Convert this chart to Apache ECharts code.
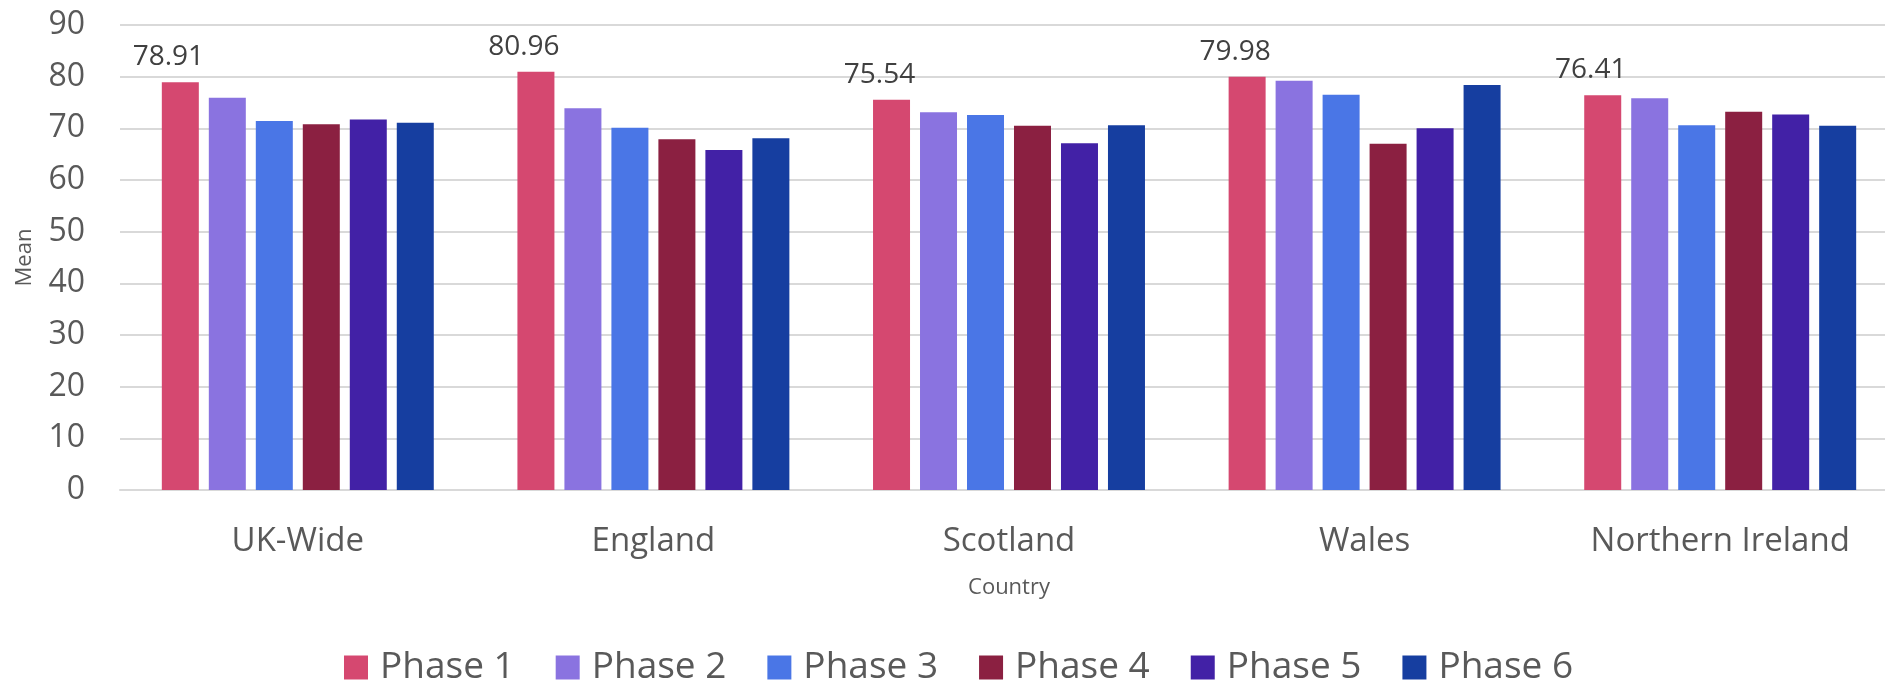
<!DOCTYPE html>
<html>
<head>
<meta charset="utf-8">
<script src="https://cdn.jsdelivr.net/npm/echarts@6/dist/echarts.min.js"></script>
<style>
html,body{margin:0;padding:0;background:#fff;overflow:hidden;}
#chart{width:1898px;height:683px;}
</style>
</head>
<body>
<div id="chart"></div>
<script>
const categories = ["UK-Wide", "England", "Scotland", "Wales", "Northern Ireland"];
const phaseNames = ["Phase 1", "Phase 2", "Phase 3", "Phase 4", "Phase 5", "Phase 6"];
const phase1 = [78.91, 80.96, 75.54, 79.98, 76.41];
const phase2 = [75.9, 73.9, 73.1, 79.2, 75.8];
const phase3 = [71.4, 70.1, 72.6, 76.5, 70.6];
const phase4 = [70.8, 67.9, 70.5, 67.0, 73.2];
const phase5 = [71.7, 65.8, 67.1, 70.0, 72.7];
const phase6 = [71.1, 68.1, 70.6, 78.4, 70.5];
const yTicks = [0, 10, 20, 30, 40, 50, 60, 70, 80, 90];

const colors = ["#D54870", "#8A73E0", "#4A76E6", "#8B2041", "#4221A6", "#163EA0"];
const seriesData = [phase1, phase2, phase3, phase4, phase5, phase6];
const FONT = "Open Sans";

const chart = echarts.init(document.getElementById('chart'));
chart.setOption({
  animation: false,
  color: colors,
  textStyle: { fontFamily: FONT },
  grid: { left: 120, top: 25, right: 0, height: 465, containLabel: false },
  legend: {
    left: 344, top: 649, padding: 0,
    itemWidth: 24, itemHeight: 24, itemGap: 41,
    icon: 'rect',
    textStyle: { fontSize: 37, color: '#595959', fontFamily: FONT, padding: [0, 0, 0, 7] },
    data: phaseNames
  },
  xAxis: {
    type: 'category',
    data: categories,
    name: 'Country',
    nameLocation: 'middle',
    nameGap: 87,
    nameTextStyle: { fontSize: 22, color: '#595959', fontFamily: FONT },
    axisLine: { show: true, lineStyle: { color: '#d9d9d9', width: 2 } },
    axisTick: { show: false },
    axisLabel: { fontSize: 33, color: '#595959', margin: 35, fontFamily: FONT }
  },
  yAxis: {
    type: 'value',
    min: yTicks[0], max: yTicks[yTicks.length - 1], interval: 10,
    name: 'Mean',
    nameLocation: 'middle',
    nameGap: 84,
    nameTextStyle: { fontSize: 22, color: '#595959', fontFamily: FONT },
    axisLine: { show: false },
    axisTick: { show: false },
    axisLabel: { fontSize: 32, color: '#595959', margin: 35, fontFamily: FONT },
    splitLine: { lineStyle: { color: '#d9d9d9', width: 2 } }
  },
  series: phaseNames.map((name, i) => ({
    name: name,
    type: 'bar',
    data: seriesData[i],
    barWidth: 37,
    barGap: '27%',
    itemStyle: { color: colors[i] },
    label: i === 0 ? {
      show: true,
      position: 'top',
      distance: 11,
      offset: [-12, 0],
      fontSize: 28,
      color: '#404040',
      fontFamily: FONT,
      formatter: p => p.value.toFixed(2)
    } : { show: false }
  }))
});
</script>
</body>
</html>
